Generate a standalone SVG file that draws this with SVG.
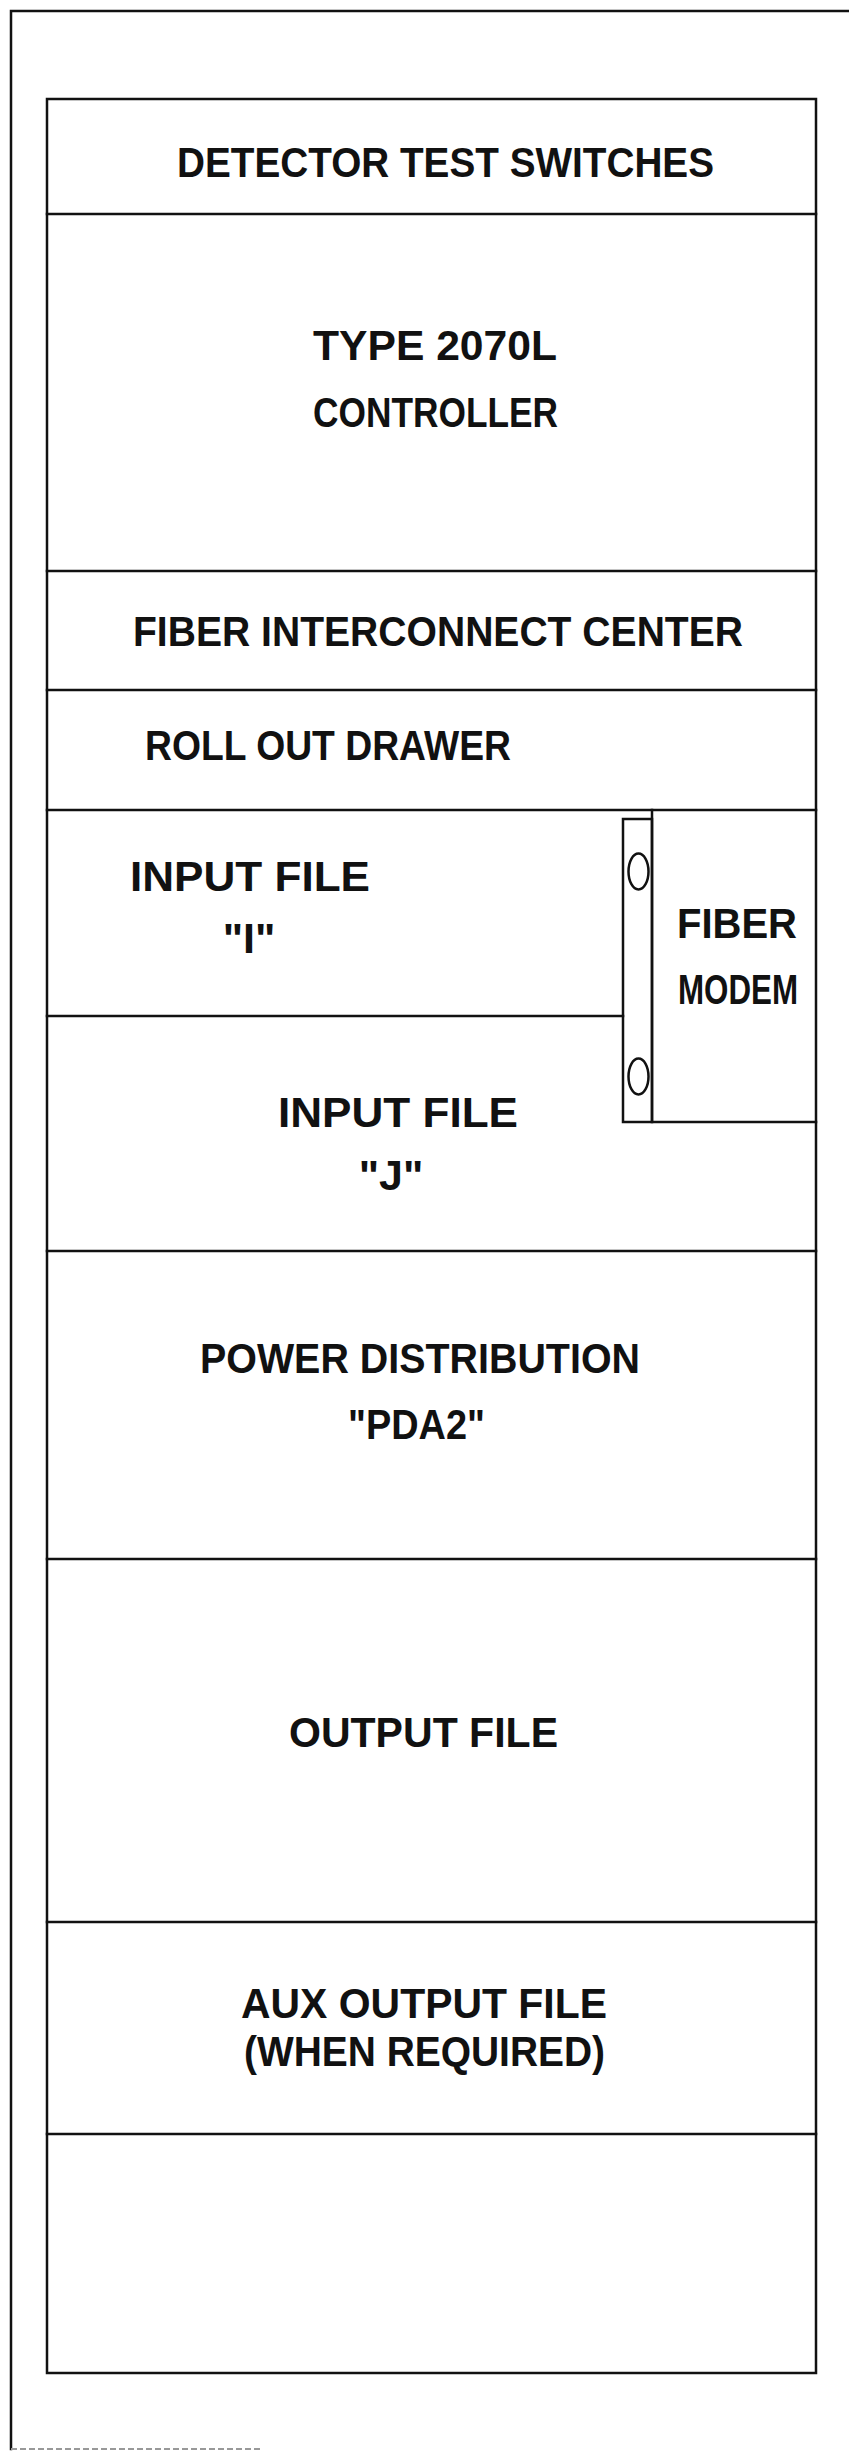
<svg xmlns="http://www.w3.org/2000/svg" width="849" height="2451" viewBox="0 0 849 2451">
<style>
  .ln{stroke:#111;stroke-width:2.5;fill:none;stroke-linecap:square}
  .t{font-family:"Liberation Sans",Arial,sans-serif;font-weight:bold;font-size:43px;fill:#111;text-anchor:start}
  .c{text-anchor:middle}
</style>
<rect width="849" height="2451" fill="#fff"/>
<g id="frame">
  <path class="ln" d="M11,2449 V11 H849"/>
  <path d="M11,2449 H260" stroke="#999" stroke-width="2" stroke-dasharray="6 3" fill="none"/>
</g>
<g id="cabinet">
  <rect class="ln" x="47" y="99" width="769" height="2274"/>
</g>
<g id="detector-test-switches">
  <text class="t" x="177" y="177" textLength="537" lengthAdjust="spacingAndGlyphs">DETECTOR TEST SWITCHES</text>
</g>
<g id="controller">
  <path class="ln" d="M47,214 H816"/>
  <text class="t" x="313" y="360" textLength="244" lengthAdjust="spacingAndGlyphs">TYPE 2070L</text>
  <text class="t" x="313" y="427" textLength="245" lengthAdjust="spacingAndGlyphs">CONTROLLER</text>
</g>
<g id="fiber-interconnect-center">
  <path class="ln" d="M47,571 H816"/>
  <text class="t" x="133" y="646" textLength="610" lengthAdjust="spacingAndGlyphs">FIBER INTERCONNECT CENTER</text>
</g>
<g id="roll-out-drawer">
  <path class="ln" d="M47,690 H816"/>
  <text class="t" x="145" y="760" textLength="366" lengthAdjust="spacingAndGlyphs">ROLL OUT DRAWER</text>
</g>
<g id="input-file-i">
  <path class="ln" d="M47,810 H816"/>
  <text class="t" x="130" y="891" textLength="240" lengthAdjust="spacingAndGlyphs">INPUT FILE</text>
  <text class="t c" x="249" y="953">"I"</text>
</g>
<g id="input-file-j">
  <path class="ln" d="M47,1016 H623"/>
  <text class="t" x="278" y="1127" textLength="240" lengthAdjust="spacingAndGlyphs">INPUT FILE</text>
  <text class="t c" x="391" y="1190">"J"</text>
</g>
<g id="fiber-modem">
  <rect class="ln" x="623" y="819" width="29" height="303"/>
  <path class="ln" d="M652,810 V1122 H816"/>
  <ellipse class="ln" cx="638.5" cy="871.5" rx="10" ry="18"/>
  <ellipse class="ln" cx="638.5" cy="1076.5" rx="10" ry="18"/>
  <text class="t" x="677" y="938" textLength="120" lengthAdjust="spacingAndGlyphs">FIBER</text>
  <text class="t" x="678" y="1004" textLength="120" lengthAdjust="spacingAndGlyphs">MODEM</text>
</g>
<g id="power-distribution">
  <path class="ln" d="M47,1251 H816"/>
  <text class="t" x="200" y="1373" textLength="440" lengthAdjust="spacingAndGlyphs">POWER DISTRIBUTION</text>
  <text class="t" x="348" y="1439" textLength="137" lengthAdjust="spacingAndGlyphs">"PDA2"</text>
</g>
<g id="output-file">
  <path class="ln" d="M47,1559 H816"/>
  <text class="t" x="289" y="1747" textLength="269" lengthAdjust="spacingAndGlyphs">OUTPUT FILE</text>
</g>
<g id="aux-output-file">
  <path class="ln" d="M47,1922 H816"/>
  <text class="t" x="241" y="2018" textLength="366" lengthAdjust="spacingAndGlyphs">AUX OUTPUT FILE</text>
  <text class="t" x="244" y="2066" textLength="361" lengthAdjust="spacingAndGlyphs">(WHEN REQUIRED)</text>
</g>
<g id="spare">
  <path class="ln" d="M47,2134 H816"/>
</g>
<g id="connectors"/>
</svg>
